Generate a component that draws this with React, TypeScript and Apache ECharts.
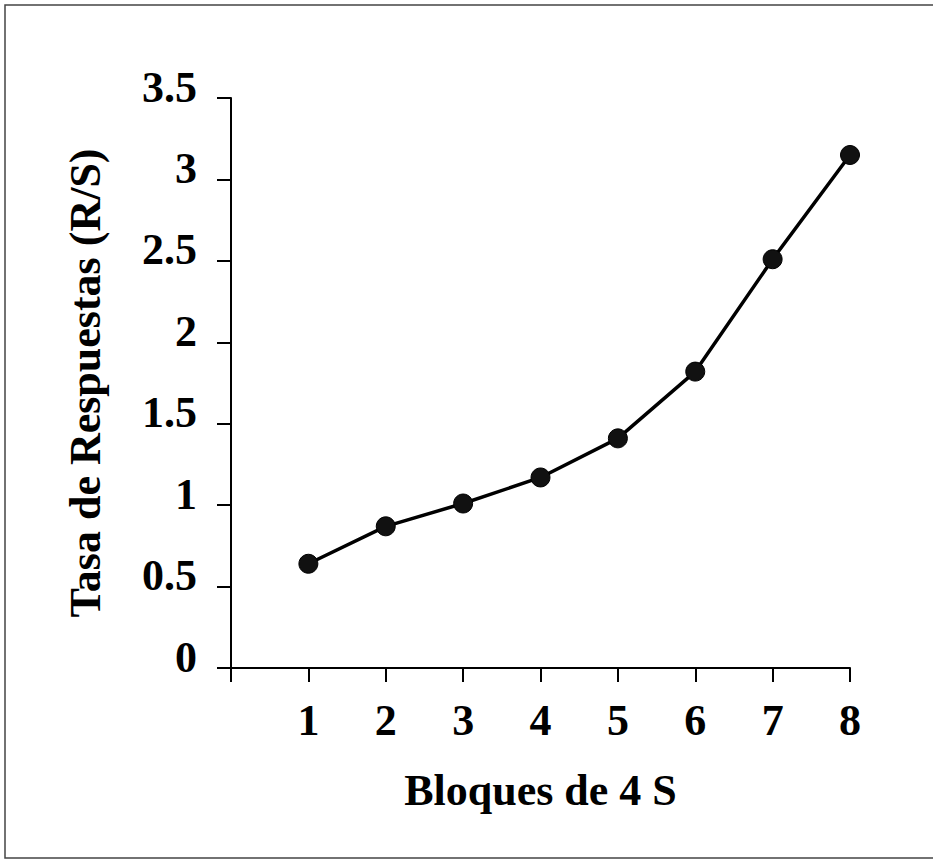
import React, { useEffect, useRef } from "react";
import * as echarts from "echarts";

const blocks = [1, 2, 3, 4, 5, 6, 7, 8];
const rates = [0.64, 0.87, 1.01, 1.17, 1.41, 1.82, 2.51, 3.15];
const xTitle = "Bloques de 4 S";
const yTitle = "Tasa de Respuestas (R/S)";

const FONT = "'Liberation Serif', 'Times New Roman', serif";

export default function App() {
  const ref = useRef<HTMLDivElement>(null);
  useEffect(() => {
    document.body.style.margin = "0";
    const chart = echarts.init(ref.current!, null, { renderer: "svg" });
    chart.setOption({
      animation: false,
      backgroundColor: "#fff",
      grid: { left: 231, right: 83, top: 98, bottom: 192, containLabel: false },
      graphic: [
        {
          type: "rect",
          shape: { x: 5, y: 5, width: 940, height: 853 },
          style: { fill: "none", stroke: "#444", lineWidth: 1.5 },
          silent: true,
        },
      ],
      xAxis: {
        type: "value",
        min: 0,
        max: 8,
        interval: 1,
        name: xTitle,
        nameLocation: "middle",
        nameGap: 100,
        nameTextStyle: { fontFamily: FONT, fontWeight: "bold", fontSize: 44, color: "#000" },
        axisLine: { show: true, onZero: false, lineStyle: { color: "#000", width: 2 } },
        axisTick: { show: true, inside: false, length: 14, lineStyle: { color: "#000", width: 2 } },
        splitLine: { show: false },
        axisLabel: {
          margin: 30,
          fontFamily: FONT,
          fontWeight: "bold",
          fontSize: 44,
          color: "#000",
          formatter: (v: number) => (v === 0 ? "" : String(v)),
        },
      },
      yAxis: {
        type: "value",
        min: 0,
        max: 3.5,
        interval: 0.5,
        name: yTitle,
        nameLocation: "middle",
        nameGap: 124,
        nameRotate: 90,
        nameTextStyle: { fontFamily: FONT, fontWeight: "bold", fontSize: 44, color: "#000" },
        axisLine: { show: true, lineStyle: { color: "#000", width: 2 } },
        axisTick: { show: true, inside: false, length: 14, lineStyle: { color: "#000", width: 2 } },
        splitLine: { show: false },
        axisLabel: {
          margin: 34,
          fontFamily: FONT,
          fontWeight: "bold",
          fontSize: 44,
          color: "#000",
          verticalAlign: "bottom",
          lineHeight: 22,
        },
      },
      series: [
        {
          type: "line",
          data: blocks.map((b, i) => [b, rates[i]]),
          symbol: "circle",
          symbolSize: 19,
          lineStyle: { color: "#000", width: 3.5 },
          itemStyle: { color: "#111", borderColor: "#000", borderWidth: 1 },
          z: 3,
        },
      ],
    });
    return () => chart.dispose();
  }, []);
  return <div ref={ref} style={{ width: 933, height: 860 }} />;
}
